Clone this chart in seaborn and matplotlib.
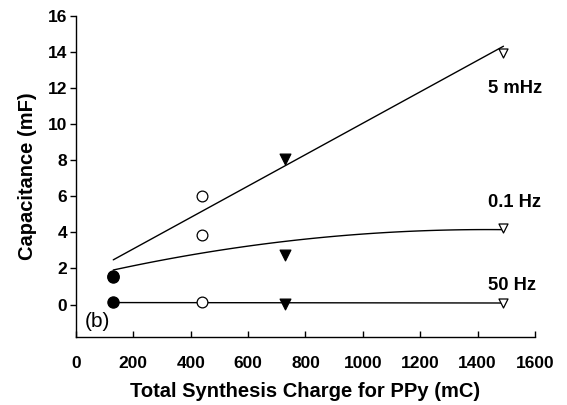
import numpy as np
import pandas as pd
import seaborn as sns
import matplotlib
matplotlib.use("Agg")
import matplotlib.pyplot as plt

# ---- data ----
charge = [130, 440, 730, 1490]            # Total synthesis charge (mC)
cap_5mhz = [1.6, 6.04, 8.08, 13.96]       # Capacitance at 5 mHz (mF)
cap_01hz = [1.53, 3.88, 2.77, 4.24]       # Capacitance at 0.1 Hz (mF)
cap_50hz = [0.12, 0.12, 0.05, 0.10]       # Capacitance at 50 Hz (mF)
series_names = ["5 mHz", "0.1 Hz", "50 Hz"]
x_ticks = [0, 200, 400, 600, 800, 1000, 1200, 1400, 1600]
y_ticks = [0, 2, 4, 6, 8, 10, 12, 14, 16]

sns.set_theme(style="ticks")
plt.rcParams["font.family"] = ["Liberation Sans", "DejaVu Sans"]
plt.rcParams["font.weight"] = "bold"

fig = plt.figure(figsize=(5.67, 4.05), dpi=100)
ax = fig.add_axes([0.134, 0.168, 0.8096, 0.7925])

df = pd.DataFrame({"charge": charge, "c5": cap_5mhz, "c01": cap_01hz, "c50": cap_50hz})

line_kw = dict(color="black", linewidth=1.0)
sns.regplot(data=df, x="charge", y="c5", ci=None, scatter=False, ax=ax, line_kws=line_kw)
sns.regplot(data=df, x="charge", y="c01", ci=None, scatter=False, order=2, ax=ax, line_kws=line_kw)
sns.regplot(data=df, x="charge", y="c50", ci=None, scatter=False, ax=ax, line_kws=line_kw)

# point styles by sample
styles = [("o", "black", 65), ("o", "white", 60), ("v", "black", 60), ("v", "white", 42)]
for i, (m, fc, s) in enumerate(styles):
    pts = pd.DataFrame({"x": [charge[i]] * 3, "y": [cap_5mhz[i], cap_01hz[i], cap_50hz[i]]})
    sns.scatterplot(data=pts, x="x", y="y", marker=m, color=fc, edgecolor="black",
                    linewidth=0.9, s=s, ax=ax, zorder=5)

ax.set_xlim(0, 1600)
ax.set_ylim(-1.8, 16)
ax.set_xticks(x_ticks)
ax.set_yticks(y_ticks)
ax.tick_params(axis="x", direction="in", length=4, width=1, labelsize=12.5, pad=13.5, colors="black")
ax.tick_params(axis="y", direction="out", length=4, width=1, labelsize=12.5, pad=2.5, colors="black")
for lab in ax.get_xticklabels() + ax.get_yticklabels():
    lab.set_fontweight("bold")
sns.despine(ax=ax)
for sp in ["left", "bottom"]:
    ax.spines[sp].set_color("black")
    ax.spines[sp].set_linewidth(1.0)

ax.set_xlabel("Total Synthesis Charge for PPy (mC)", fontsize=14.5, fontweight="bold", labelpad=8, color="black")
ax.set_ylabel("Capacitance (mF)", fontsize=14.5, fontweight="bold", labelpad=7.5, color="black")

label_y = [11.96, 5.65, 1.05]
for name, yy in zip(series_names, label_y):
    ax.text(1435, yy, name, ha="left", va="center", fontsize=13.2, fontweight="bold", color="black")
ax.text(31, -0.94, "(b)", ha="left", va="center", fontsize=15, fontweight="normal", color="black")

fig.savefig("out.png", dpi=100)
